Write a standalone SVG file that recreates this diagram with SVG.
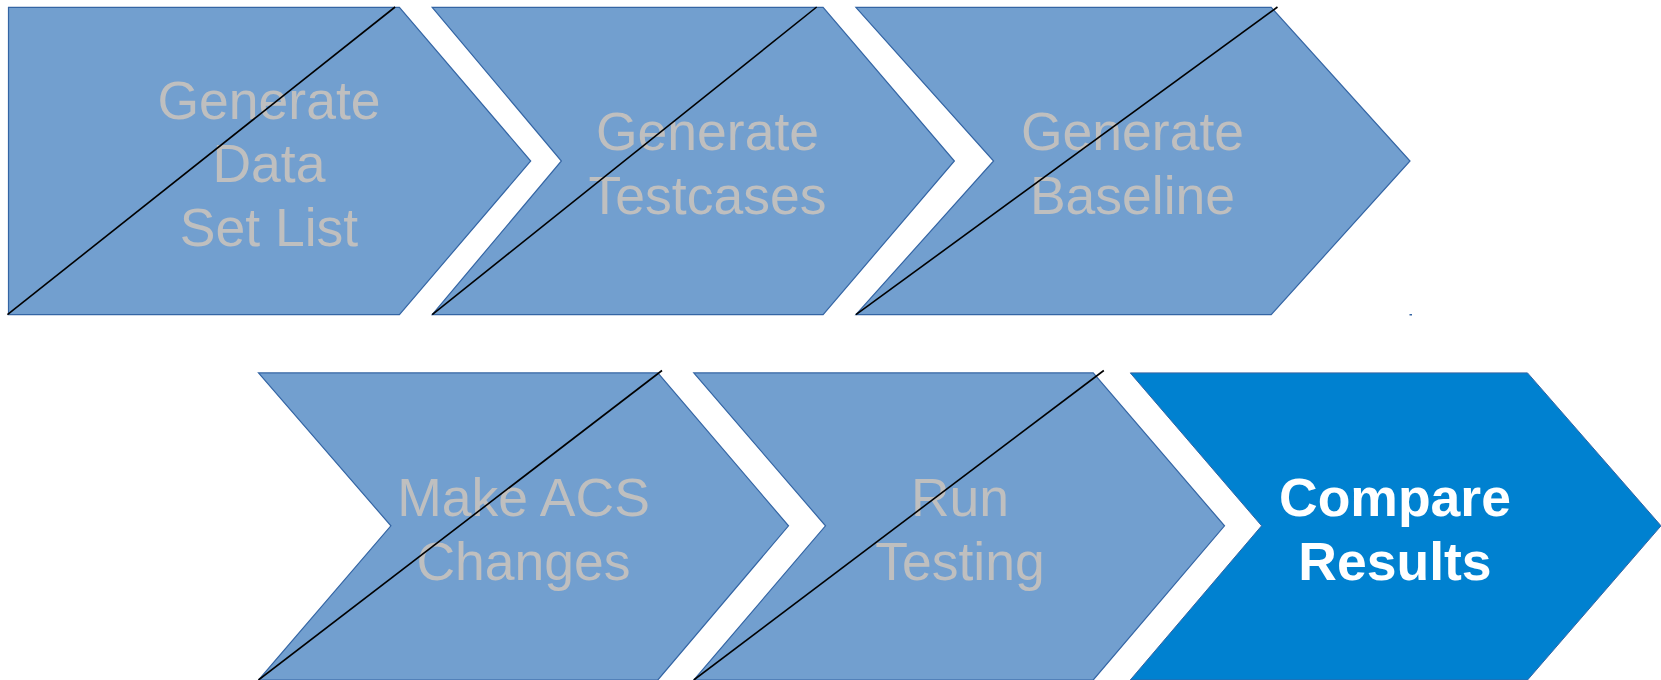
<svg xmlns="http://www.w3.org/2000/svg" width="1661" height="680" viewBox="0 0 1661 680">
<style>
.shape{fill:#729fcf;stroke:#3465a4;stroke-width:1.2;stroke-linejoin:miter}
.accent{fill:#0081d0;stroke:#3465a4;stroke-width:1}
.lbl{font-family:"Liberation Sans",Arial,sans-serif;font-size:53.5px;fill:#bfbfbf;text-anchor:middle}
.lblw{font-family:"Liberation Sans",Arial,sans-serif;font-size:53.5px;font-weight:bold;fill:#ffffff;text-anchor:middle}
.diag{stroke:#000000;stroke-width:1.6;fill:none}
</style>
<rect width="1661" height="680" fill="#ffffff"/>
<g id="node1">
<polygon class="shape" points="8.5,7.4 399.4,7.4 530.7,161 399.4,314.6 8.5,314.6"/>
<text class="lbl"><tspan x="269" y="118.5">Generate</tspan><tspan x="269" y="182">Data</tspan><tspan x="269" y="246">Set List</tspan></text>
</g>
<g id="node2">
<polygon class="shape" points="432.2,7.4 823.1,7.4 954.4,161 823.1,314.6 432.2,314.6 561.4,161"/>
<text class="lbl"><tspan x="707.5" y="150">Generate</tspan><tspan x="707.5" y="213.5">Testcases</tspan></text>
</g>
<g id="node3">
<polygon class="shape" points="855.9,7.4 1271.2,7.4 1410,161 1271.2,314.6 855.9,314.6 993.6,161"/>
<text class="lbl"><tspan x="1132.5" y="150">Generate</tspan><tspan x="1132.5" y="213.5">Baseline</tspan></text>
</g>
<g id="node4">
<polygon class="shape" points="258.5,372.9 657.8,372.9 788.5,525.8 657.8,680 258.5,680 390.9,525.8"/>
<text class="lbl"><tspan x="523.5" y="515.5">Make ACS</tspan><tspan x="523.5" y="579.5">Changes</tspan></text>
</g>
<g id="node5">
<polygon class="shape" points="693.8,372.9 1093.2,372.9 1224.5,525.8 1093.2,680 693.8,680 825.5,525.8"/>
<text class="lbl"><tspan x="960" y="515.5">Run</tspan><tspan x="960" y="579.5">Testing</tspan></text>
</g>
<g id="node6">
<polygon class="accent" points="1130.3,372.9 1527.5,372.9 1661,525.8 1527.5,680 1130.3,680 1261.6,525.8"/>
<text class="lblw"><tspan x="1395" y="515.5">Compare</tspan><tspan x="1395" y="579.5">Results</tspan></text>
</g>
<g id="connectors">
<line class="diag" x1="7.4" y1="314.6" x2="395.1" y2="7"/>
<line class="diag" x1="432.2" y1="314.6" x2="816.7" y2="7"/>
<line class="diag" x1="855.9" y1="314.6" x2="1277.5" y2="7"/>
<line class="diag" x1="258.5" y1="680" x2="662" y2="370.5"/>
<line class="diag" x1="693.8" y1="680" x2="1103.8" y2="370.5"/>
</g>
<rect x="1409.5" y="314" width="2.5" height="1.5" fill="#3465a4"/>
</svg>
